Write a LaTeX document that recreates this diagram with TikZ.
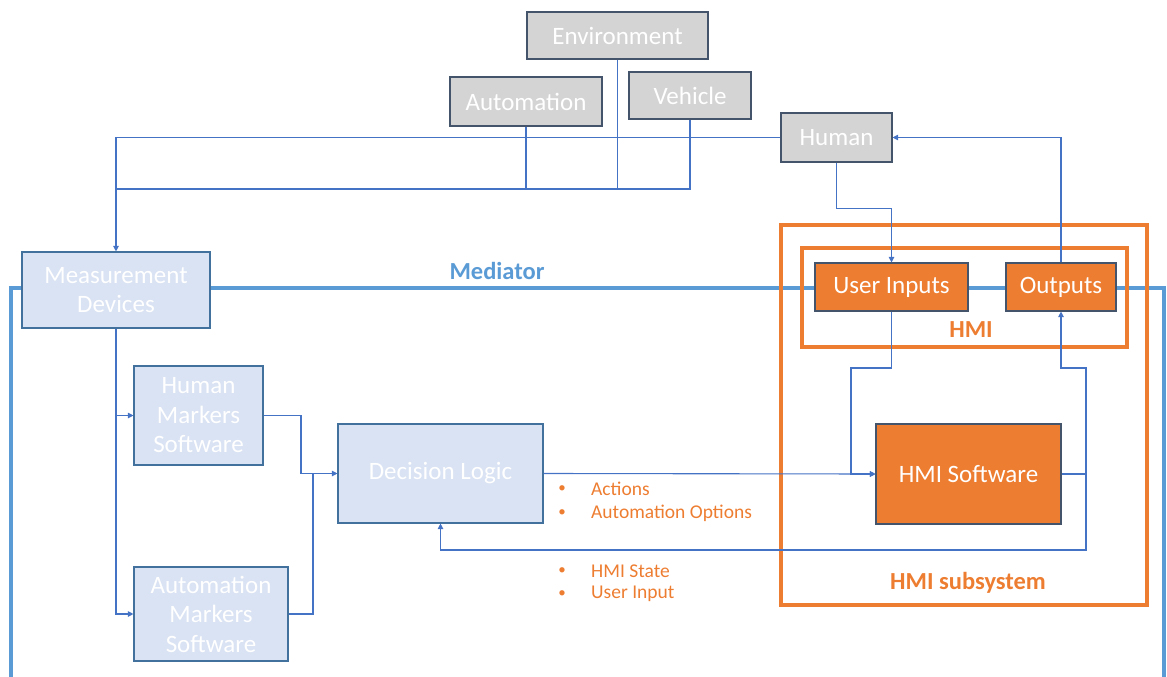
\documentclass[tikz,border=0pt]{standalone}
\usepackage{fontspec}
\setmainfont{Carlito}
\usetikzlibrary{arrows.meta}
\definecolor{linkblue}{HTML}{4472C4}
\definecolor{medblue}{HTML}{5B9BD5}
\definecolor{hmiorange}{HTML}{ED7D31}
\definecolor{boxgrey}{HTML}{D4D4D4}
\definecolor{boxedge}{HTML}{44546A}
\definecolor{boxblue}{HTML}{DAE3F3}
\definecolor{blueedge}{HTML}{41719C}
\begin{document}
\begin{tikzpicture}[x=1pt,y=-1pt,
  box/.style={draw, line width=1.1pt, inner sep=0pt, align=center, text=white,
    font=\fontsize{25}{29.5}\selectfont},
  greybox/.style={box, fill=boxgrey, draw=boxedge},
  bluebox/.style={box, fill=boxblue, draw=blueedge},
  orangebox/.style={box, fill=hmiorange, draw=boxedge},
  conn/.style={draw=linkblue, line width=1.1pt},
  arr/.style={conn, -{Triangle[length=5.5pt,width=5.5pt]}},
  frame/.style={draw=hmiorange, line width=3.5pt},
  title/.style={font=\fontsize{24.5}{28}\selectfont\bfseries, inner sep=0pt},
  item/.style={text=hmiorange, font=\fontsize{19.5}{23}\selectfont, anchor=west, inner sep=0pt},
  dot/.style={text=hmiorange, font=\fontsize{15}{18}\selectfont, inner sep=0pt},
]
\useasboundingbox (0,0) rectangle (1167,677);

% mediator boundary
\draw[draw=medblue, line width=4pt] (11,700) -- (11,288) -- (1164,288) -- (1164,700);
\node[title, text=medblue] (mediator) at (497,271) {Mediator};

% HMI frames
\draw[frame] (781,225) rectangle (1147,605);
\draw[frame] (802,248) rectangle (1127,347);
\node[title, text=hmiorange] (hmilabel) at (971,330) {HMI};
\node[title, text=hmiorange] (sublabel) at (968,583) {HMI subsystem};

% outside world
\node[greybox, minimum width=181pt, minimum height=47pt] (env) at (617.5,35.5) {Environment};
\node[greybox, minimum width=152pt, minimum height=49pt] (auto) at (526,101.5) {Automation};
\node[greybox, minimum width=122pt, minimum height=47pt] (veh) at (690,95.5) {Vehicle};
\node[greybox, minimum width=111pt, minimum height=49pt] (human) at (836.5,137.5) {Human};

% mediator blocks
\node[bluebox, minimum width=188pt, minimum height=76pt] (md) at (116,290) {Measurement\\Devices};
\node[bluebox, minimum width=129pt, minimum height=99pt] (hms) at (198.5,415.5) {Human\\Markers\\Software};
\node[bluebox, minimum width=154pt, minimum height=94pt] (ams) at (211,614) {Automation\\Markers\\Software};
\node[bluebox, minimum width=205pt, minimum height=99pt] (dl) at (440.5,473.5) {Decision Logic};

% HMI blocks
\node[orangebox, minimum width=185pt, minimum height=100pt] (hmisw) at (968.5,474) {HMI Software};
\node[orangebox, minimum width=153pt, minimum height=48pt] (ui) at (891.5,287) {User Inputs};
\node[orangebox, minimum width=110pt, minimum height=48pt] (outp) at (1061,287) {Outputs};

% sensing bus
\coordinate (busL) at (116,189);
\draw[arr] (human.west) -| (md.north);
\draw[conn] (veh.south) |- (busL);
\draw[conn] (auto.south) -- (auto.south |- busL);
\draw[conn] (env.south) -- (env.south |- busL);

% human <-> HMI
\draw[arr] (human.south) -- ++(0,46) -| (ui.north);
\draw[arr] (outp.north) |- (human.east);

% measurement to marker software
\draw[arr] (md.south) |- (ams.west);
\draw[arr] (md.south |- hms.west) -- (hms.west);
\draw[arr] (hms.east) -| (301,473.5) -- (dl.west);
\draw[conn] (ams.east) -| (313,473.5);

% decision logic <-> HMI software
\draw[arr] (dl.east) -- (hmisw.west);
\draw[arr] (ui.south) |- (851,368) |- (hmisw.west);
\coordinate (fb) at (1086,474);
\draw[conn] (hmisw.east) -- (fb);
\draw[arr] (fb) -- (fb |- 0,368) -| (outp.south);
\draw[arr] (fb) -- (1086,550) -| (dl.south);

% exchanged information
\node[dot] (d1) at (562,489) {•};
\node[item] (act) at (591,489) {Actions};
\node[dot] (d2) at (562,513) {•};
\node[item] (opt) at (591,513) {Automation Options};
\node[dot] (d3) at (562,571) {•};
\node[item] (state) at (591,571) {HMI State};
\node[dot] (d4) at (562,594) {•};
\node[item] (uin) at (591,594) {User Input};
\end{tikzpicture}
\end{document}
